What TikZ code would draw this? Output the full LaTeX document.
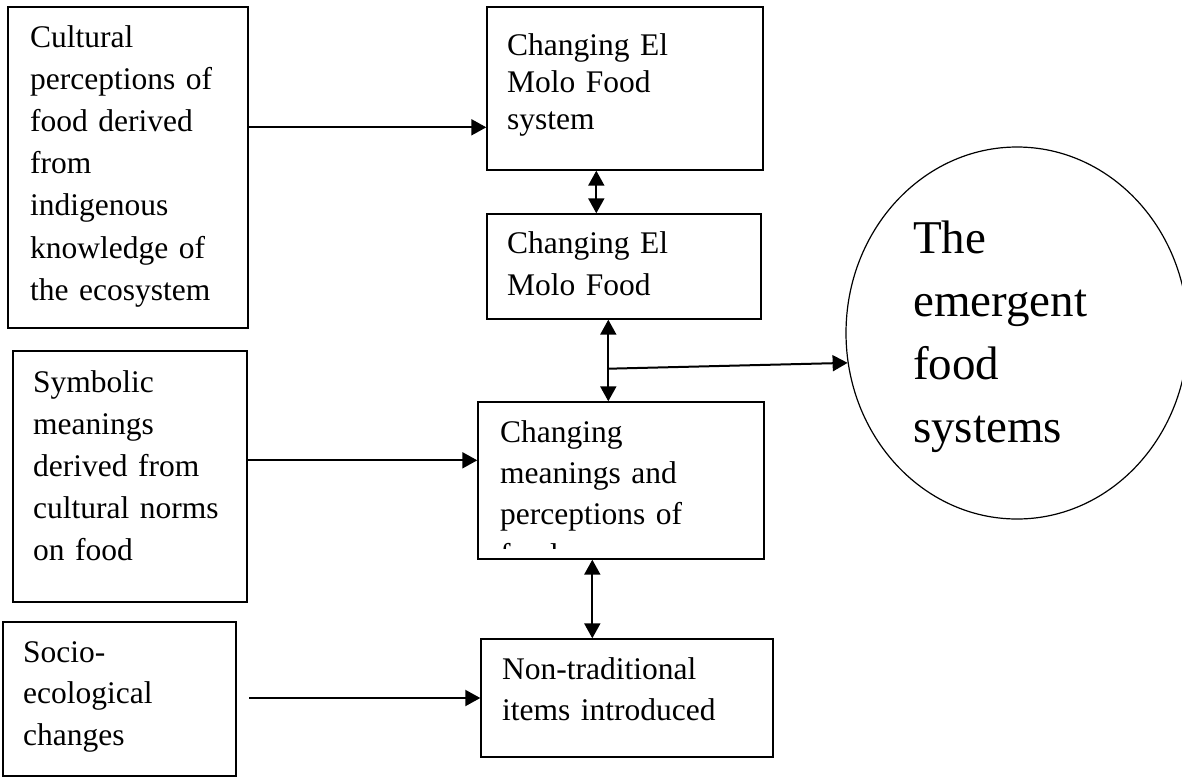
\documentclass[tikz,border=0pt]{standalone}
\usepackage{fontspec}
\setmainfont{Liberation Serif}
\usepackage{tikz}
\usetikzlibrary{shapes.geometric,arrows.meta,positioning}

\begin{document}
\begin{tikzpicture}[
    x=1pt, y=-1pt,
    box/.style={draw, line width=1.4pt, inner sep=0pt},
    lbl/.style={font=\fontsize{31.5}{#1}\selectfont, align=left, text width=280pt,
                anchor=base west, inner sep=0pt},
    lbl/.default=42,
    arr/.style={-{Triangle[length=15pt,width=16pt]}, line width=2pt},
    dbl/.style={{Triangle[length=15pt,width=16pt]}-{Triangle[length=15pt,width=16pt]}, line width=2pt}
]
\useasboundingbox (0,0) rectangle (1182,777);

%, Left column: inputs ---
\node[box, minimum width=240, minimum height=321] (cult) at (128,167.5) {};
\node[lbl=42.2] (tcult) at (30,47) {Cultural\\perceptions of\\food derived\\from\\indigenous\\knowledge of\\the ecosystem};

\node[box, minimum width=234, minimum height=251] (sym) at (130,476.5) {};
\node[lbl] (tsym) at (33,392) {Symbolic\\meanings\\derived from\\cultural norms\\on food};

\node[box, minimum width=233, minimum height=154] (socio) at (119.5,699) {};
\node[lbl=41.5] (tsocio) at (23,662) {Socio-\\ecological\\changes};

%, Middle column ---
\node[box, minimum width=276, minimum height=163] (sys1) at (625,88.5) {};
\node[lbl=37] (tsys1) at (507,55) {Changing El\\Molo Food\\system};

\node[box, minimum width=274, minimum height=105] (sys2) at (624,266.5) {};
\node[lbl] (tsys2) at (507,253) {Changing El\\Molo Food};

\node[box, minimum width=286, minimum height=157] (mean) at (621,480.5) {};
\begin{scope}
  \clip (mean.north west) rectangle ([yshift=11pt]mean.south east);
  \node[lbl=41] (tmean) at (500,442) {Changing\\meanings and\\perceptions of\\food};
\end{scope}

\node[box, minimum width=292, minimum height=118] (nontrad) at (627,698) {};
\node[lbl=41] (tnontrad) at (502,679) {Non-traditional\\items introduced};

%, Right: outcome ---
\node[draw, ellipse, line width=1.2pt, minimum width=342, minimum height=372, inner sep=0pt] (emerg) at (1017,333) {};
\node[lbl=63, font=\fontsize{47}{63}\selectfont] (temerg) at (913,253) {The\\emergent\\food\\systems};

% Arrows
\path ([yshift=-121pt]cult.north east) coordinate (c1);
\draw[arr] (c1) -- (c1 -| sys1.west);
\path ([yshift=-110pt]sym.north east) coordinate (c2);
\draw[arr] (c2) -- (c2 -| mean.west);
\coordinate (c3) at (249,698);
\draw[arr] (c3) -- (c3 -| nontrad.west);

\draw[dbl] ([xshift=110pt]sys1.south west) -- ([xshift=110pt]sys2.north west);
\draw[dbl] ([xshift=122pt]sys2.south west) -- ([xshift=131pt]mean.north west);
\draw[dbl] ([xshift=115pt]mean.south west) -- ([xshift=112pt]nontrad.north west);

\path ([xshift=122pt,yshift=-49pt]sys2.south west) coordinate (jn);
\draw[arr] (jn) -- (emerg.190);
\end{tikzpicture}
\end{document}
